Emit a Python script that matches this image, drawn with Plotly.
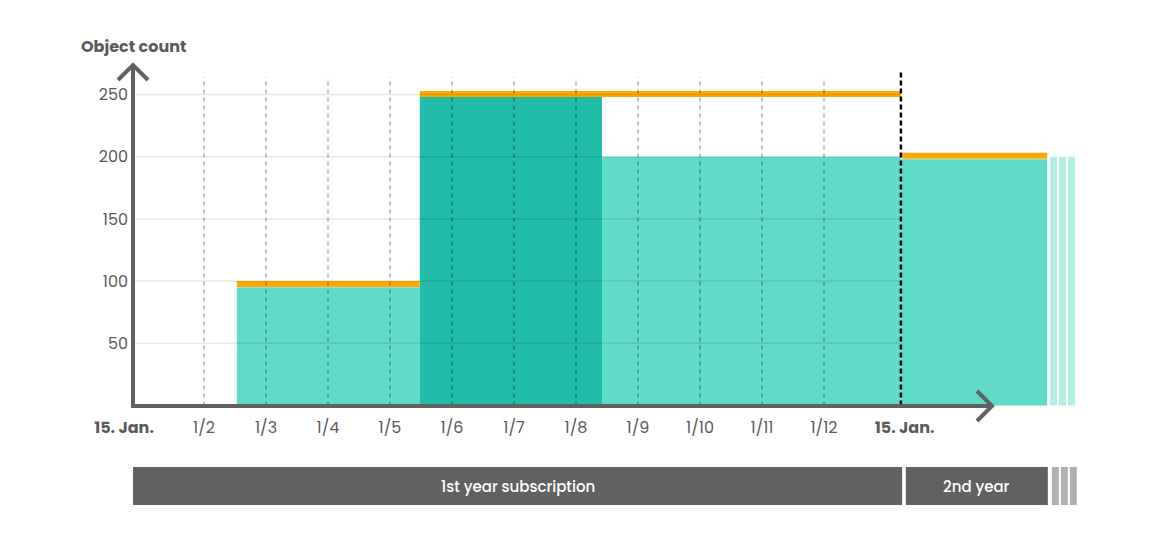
import plotly.graph_objects as go

# ---- data -------------------------------------------------------------
# x is measured in months: 1/2 -> 1, 1/3 -> 2, ..., 1/12 -> 11
month_labels = ["1/2", "1/3", "1/4", "1/5", "1/6", "1/7", "1/8", "1/9", "1/10", "1/11", "1/12"]
month_pos = [1, 2, 3, 4, 5, 6, 7, 8, 9, 10, 11]
start_pos = -0.145          # 15. Jan. (subscription start)
renewal_pos = 12.24         # 15. Jan. (renewal)
start_label_pos = -0.29
renewal_label_pos = 12.3

# object count steps
usage_start = [1.53, 4.48, 7.42, 12.24]
usage_end = [4.48, 7.42, 12.24, 14.6]
usage_value = [95, 248, 200, 198]
usage_peak = [False, True, False, False]

# billed maximum (orange)
limit_start = [1.53, 4.48, 12.26]
limit_end = [4.48, 12.24, 14.6]
limit_value = [97.7, 250.4, 200.7]

# fading continuation stripes
stripe_start = [14.645, 14.79, 14.935]
stripe_width = 0.113
stripe_value = 200

y_ticks = [50, 100, 150, 200, 250]
periods = ["1st year subscription", "2nd year"]
period_start = [start_pos, 12.32]
period_end = [renewal_pos + 0.02, 14.61]

# ---- geometry helpers (pixel <-> axis) ---------------------------------
W, H = 1162, 558
PX_PER_MONTH = 62
PX_PER_UNIT = 1.244
def vx(px): return 1 + (px - 204) / PX_PER_MONTH
def vy(py): return (405.5 - py) / PX_PER_UNIT
def ppx(px): return px / W
def ppy(py): return 1 - py / H

TEAL = "#5fdbc8"
TEAL_DARK = "#22bda9"
TEAL_FADE = "#b3ede4"
ORANGE = "#ffa800"
GRAY = "#616161"
TEXT = "#5a5a5a"
FONT = "Poppins, Inter, sans-serif"

fig = go.Figure()

# main bars
fig.add_trace(go.Bar(
    x=[(s + e) / 2 for s, e in zip(usage_start, usage_end)],
    y=usage_value,
    width=[e - s for s, e in zip(usage_start, usage_end)],
    base=0,
    marker=dict(color=[TEAL_DARK if p else TEAL for p in usage_peak], line=dict(width=0)),
    hoverinfo="skip", showlegend=False,
))
# stripes
fig.add_trace(go.Bar(
    x=[s + stripe_width / 2 for s in stripe_start],
    y=[stripe_value] * len(stripe_start),
    width=[stripe_width] * len(stripe_start),
    base=0,
    marker=dict(color=TEAL_FADE, line=dict(width=0)),
    hoverinfo="skip", showlegend=False,
))

# orange limit lines
for s, e, v in zip(limit_start, limit_end, limit_value):
    fig.add_trace(go.Scatter(
        x=[s, e], y=[v, v], mode="lines",
        line=dict(color=ORANGE, width=6),
        hoverinfo="skip", showlegend=False,
    ))

# subscription period bands
band_lo, band_hi = vy(505), vy(467)
fig.add_trace(go.Bar(
    x=[(s + e) / 2 for s, e in zip(period_start, period_end)],
    y=[band_hi - band_lo] * 2,
    width=[e - s for s, e in zip(period_start, period_end)],
    base=band_lo,
    marker=dict(color=GRAY, line=dict(width=0)),
    hoverinfo="skip", showlegend=False,
))
fig.add_trace(go.Bar(
    x=[s + 0.03 + stripe_width / 2 for s in stripe_start],
    y=[band_hi - band_lo] * 3,
    width=[stripe_width] * 3,
    base=band_lo,
    marker=dict(color="#b0b0b0", line=dict(width=0)),
    hoverinfo="skip", showlegend=False,
))

shapes = []
# grid lines (faint, over bars)
for t in y_ticks:
    shapes.append(dict(type="line", xref="x", yref="y", x0=start_pos, x1=renewal_pos,
                       y0=t, y1=t, layer="above",
                       line=dict(color="rgba(0,0,0,0.09)", width=1.5)))
# month dashed lines
for m in month_pos:
    shapes.append(dict(type="line", xref="x", yref="y", x0=m, x1=m, y0=0, y1=vy(77),
                       layer="above",
                       line=dict(color="rgba(0,0,0,0.24)", width=2, dash="4px,4px")))
# renewal dotted line
shapes.append(dict(type="line", xref="x", yref="y", x0=renewal_pos, x1=renewal_pos,
                   y0=0, y1=vy(72), layer="above",
                   line=dict(color="#000000", width=2.5, dash="5px,3px")))
# axes with arrows
axis_line = dict(color=GRAY, width=4)
shapes.append(dict(type="path", xref="paper", yref="paper", layer="above",
                   path=f"M {ppx(133)},{ppy(407)} L {ppx(133)},{ppy(66)}", line=axis_line))
shapes.append(dict(type="path", xref="paper", yref="paper", layer="above",
                   path=f"M {ppx(118)},{ppy(80)} L {ppx(133)},{ppy(65)} L {ppx(148)},{ppy(80)}",
                   line=axis_line))
shapes.append(dict(type="path", xref="paper", yref="paper", layer="above",
                   path=f"M {ppx(131)},{ppy(406)} L {ppx(991)},{ppy(406)}", line=axis_line))
shapes.append(dict(type="path", xref="paper", yref="paper", layer="above",
                   path=f"M {ppx(977)},{ppy(391)} L {ppx(992)},{ppy(406)} L {ppx(977)},{ppy(421)}",
                   line=axis_line))

annotations = [
    dict(text="Object count", xref="paper", yref="paper", x=ppx(79), y=ppy(47),
         xanchor="left", yanchor="middle", showarrow=False,
         font=dict(family=FONT, size=16, color=TEXT, weight=700)),
]
for name, s, e in zip(periods, period_start, period_end):
    annotations.append(dict(text=name, xref="x", yref="y", x=(s + e) / 2,
                            y=(band_lo + band_hi) / 2, showarrow=False,
                            font=dict(family=FONT, size=15, color="white", weight=500)))

tick_vals = [start_label_pos] + month_pos + [renewal_label_pos]
tick_text = ["<b>15. Jan.</b>"] + month_labels + ["<b>15. Jan.</b>"]

fig.update_layout(
    width=W, height=H,
    margin=dict(l=0, r=0, t=0, b=0),
    paper_bgcolor="white", plot_bgcolor="white",
    barmode="overlay",
    hovermode=False,
    font=dict(family=FONT, color=TEXT),
    xaxis=dict(range=[vx(0), vx(W)], showgrid=False, zeroline=False, showline=False,
               tickvals=tick_vals, ticktext=tick_text, ticks="",
               anchor="free", position=ppy(405.5), ticklabelstandoff=10,
               tickfont=dict(family=FONT, size=16, color=TEXT), automargin=False,
               fixedrange=True),
    yaxis=dict(range=[vy(H), vy(0)], showgrid=False, zeroline=False, showline=False,
               tickvals=y_ticks, ticks="", anchor="free", position=ppx(133),
               ticklabelstandoff=5,
               tickfont=dict(family=FONT, size=16, color=TEXT), automargin=False,
               fixedrange=True),
    shapes=shapes,
    annotations=annotations,
)

fig.write_html("out.html", config={"displayModeBar": False},
               post_script="document.body.style.margin='0';")
